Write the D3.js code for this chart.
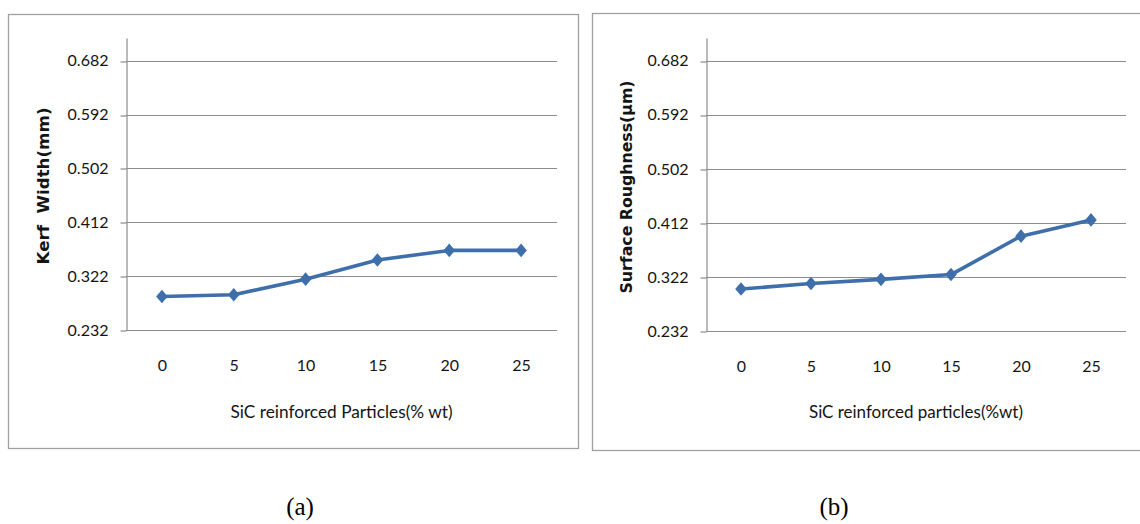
<!DOCTYPE html>
<html>
<head>
<meta charset="utf-8">
<script src="https://cdn.jsdelivr.net/npm/d3@7"></script>
<style>
  html, body { margin: 0; padding: 0; background: #ffffff; }
  svg { display: block; }
  .tick text { font-family: Lato, "Open Sans", sans-serif; fill: #141414; }
</style>
</head>
<body>
<svg id="chart" width="1140" height="524"></svg>
<script>
// SiC content (% wt) on the x axis
const categories = [0, 5, 10, 15, 20, 25];
// (a) kerf width, mm
const kerfWidth = [0.288, 0.291, 0.317, 0.349, 0.365, 0.365];
// (b) surface roughness, µm
const surfaceRoughness = [0.302, 0.311, 0.318, 0.326, 0.390, 0.417];
// value axis: gridline ticks and upper bound
const yTickValues = [0.232, 0.322, 0.412, 0.502, 0.592, 0.682];
const yMin = 0.232;
const yMax = 0.72;
// titles
const yTitles = ["Kerf  Width(mm)", "Surface Roughness(µm)"];
const xTitles = ["SiC reinforced Particles(% wt)", "SiC reinforced particles(%wt)"];
const captions = ["(a)", "(b)"];

const svg = d3.select("#chart");
const lineColor = "#3f6fab";
const gridColor = "#8c8c8c";

const panels = [
  { values: kerfWidth, yTitle: yTitles[0], xTitle: xTitles[0], caption: captions[0],
    box: [8, 14, 578, 448], plot: [126, 557, 330, 38],
    yTitleX: 44, yTitleY: 186, yTitleLen: 157,
    xTitleLen: 222, captionX: 300 },
  { values: surfaceRoughness, yTitle: yTitles[1], xTitle: xTitles[1], caption: captions[1],
    box: [592, 13, 1146, 450], plot: [706, 1126, 331, 38],
    yTitleX: 627, yTitleY: 187, yTitleLen: 213,
    xTitleLen: 214, captionX: 834 }
];

panels.forEach(p => {
  const [bx0, by0, bx1, by1] = p.box;
  const [left, right, bottom, top] = p.plot;

  // outer frame of the chart area
  svg.append("rect")
    .attr("x", bx0 + 0.5).attr("y", by0 + 0.5)
    .attr("width", bx1 - bx0).attr("height", by1 - by0)
    .attr("fill", "#ffffff").attr("stroke", "#a0a0a0").attr("stroke-width", 1.3);

  const x = d3.scalePoint().domain(categories).range([left, right]).padding(0.5);
  const y = d3.scaleLinear().domain([yMin, yMax]).range([bottom, top]);

  // horizontal gridlines
  svg.append("g")
    .selectAll("line")
    .data(yTickValues)
    .join("line")
    .attr("x1", left).attr("x2", right)
    .attr("y1", d => Math.round(y(d)) + 0.5).attr("y2", d => Math.round(y(d)) + 0.5)
    .attr("stroke", gridColor).attr("stroke-width", 1.2);

  // value axis
  const yAxis = svg.append("g")
    .attr("transform", `translate(${Math.round(left) + 0.5},0)`)
    .call(d3.axisLeft(y).tickValues(yTickValues).tickSize(6).tickSizeOuter(0)
      .tickPadding(12).tickFormat(d3.format(".3f")));
  yAxis.select(".domain").attr("stroke", gridColor).attr("stroke-width", 1.2);
  yAxis.selectAll(".tick line").attr("stroke", gridColor).attr("stroke-width", 1.2)
    .attr("transform", d => `translate(0,${Math.round(y(d)) + 0.5 - y(d)})`);
  yAxis.selectAll(".tick text").attr("font-size", 16);

  // category axis labels
  const xAxis = svg.append("g")
    .attr("transform", `translate(0,${bottom})`)
    .call(d3.axisBottom(x).tickSize(0).tickPadding(30));
  xAxis.select(".domain").remove();
  xAxis.selectAll(".tick text").attr("font-size", 16);

  // series line and diamond markers
  const line = d3.line()
    .x((d, i) => x(categories[i]))
    .y(d => y(d));
  svg.append("path")
    .datum(p.values)
    .attr("d", line)
    .attr("fill", "none")
    .attr("stroke", lineColor)
    .attr("stroke-width", 3.6)
    .attr("stroke-linejoin", "round");

  svg.append("g")
    .selectAll("path")
    .data(p.values)
    .join("path")
    .attr("d", "M0,-6.8L5.8,0L0,6.8L-5.8,0Z")
    .attr("transform", (d, i) => `translate(${x(categories[i])},${y(d)})`)
    .attr("fill", lineColor);

  // axis titles
  svg.append("text")
    .attr("transform", `translate(${p.yTitleX},${p.yTitleY}) rotate(-90)`)
    .attr("text-anchor", "middle")
    .attr("dominant-baseline", "central")
    .attr("font-family", "'DejaVu Sans', sans-serif")
    .attr("font-weight", "bold")
    .attr("font-size", 15)
    .attr("fill", "#141414")
    .attr("textLength", p.yTitleLen)
    .attr("lengthAdjust", "spacingAndGlyphs")
    .style("white-space", "pre")
    .text(p.yTitle);

  svg.append("text")
    .attr("x", (left + right) / 2)
    .attr("y", 411)
    .attr("text-anchor", "middle")
    .attr("dominant-baseline", "central")
    .attr("font-family", "Lato, sans-serif")
    .attr("font-size", 18)
    .attr("fill", "#141414")
    .attr("textLength", p.xTitleLen)
    .attr("lengthAdjust", "spacingAndGlyphs")
    .style("white-space", "pre")
    .text(p.xTitle);

  // panel caption below the frame
  svg.append("text")
    .attr("x", p.captionX)
    .attr("y", 506)
    .attr("text-anchor", "middle")
    .attr("dominant-baseline", "central")
    .attr("font-family", "'Liberation Serif', 'Times New Roman', serif")
    .attr("font-size", 25)
    .attr("fill", "#000000")
    .text(p.caption);
});
</script>
</body>
</html>
